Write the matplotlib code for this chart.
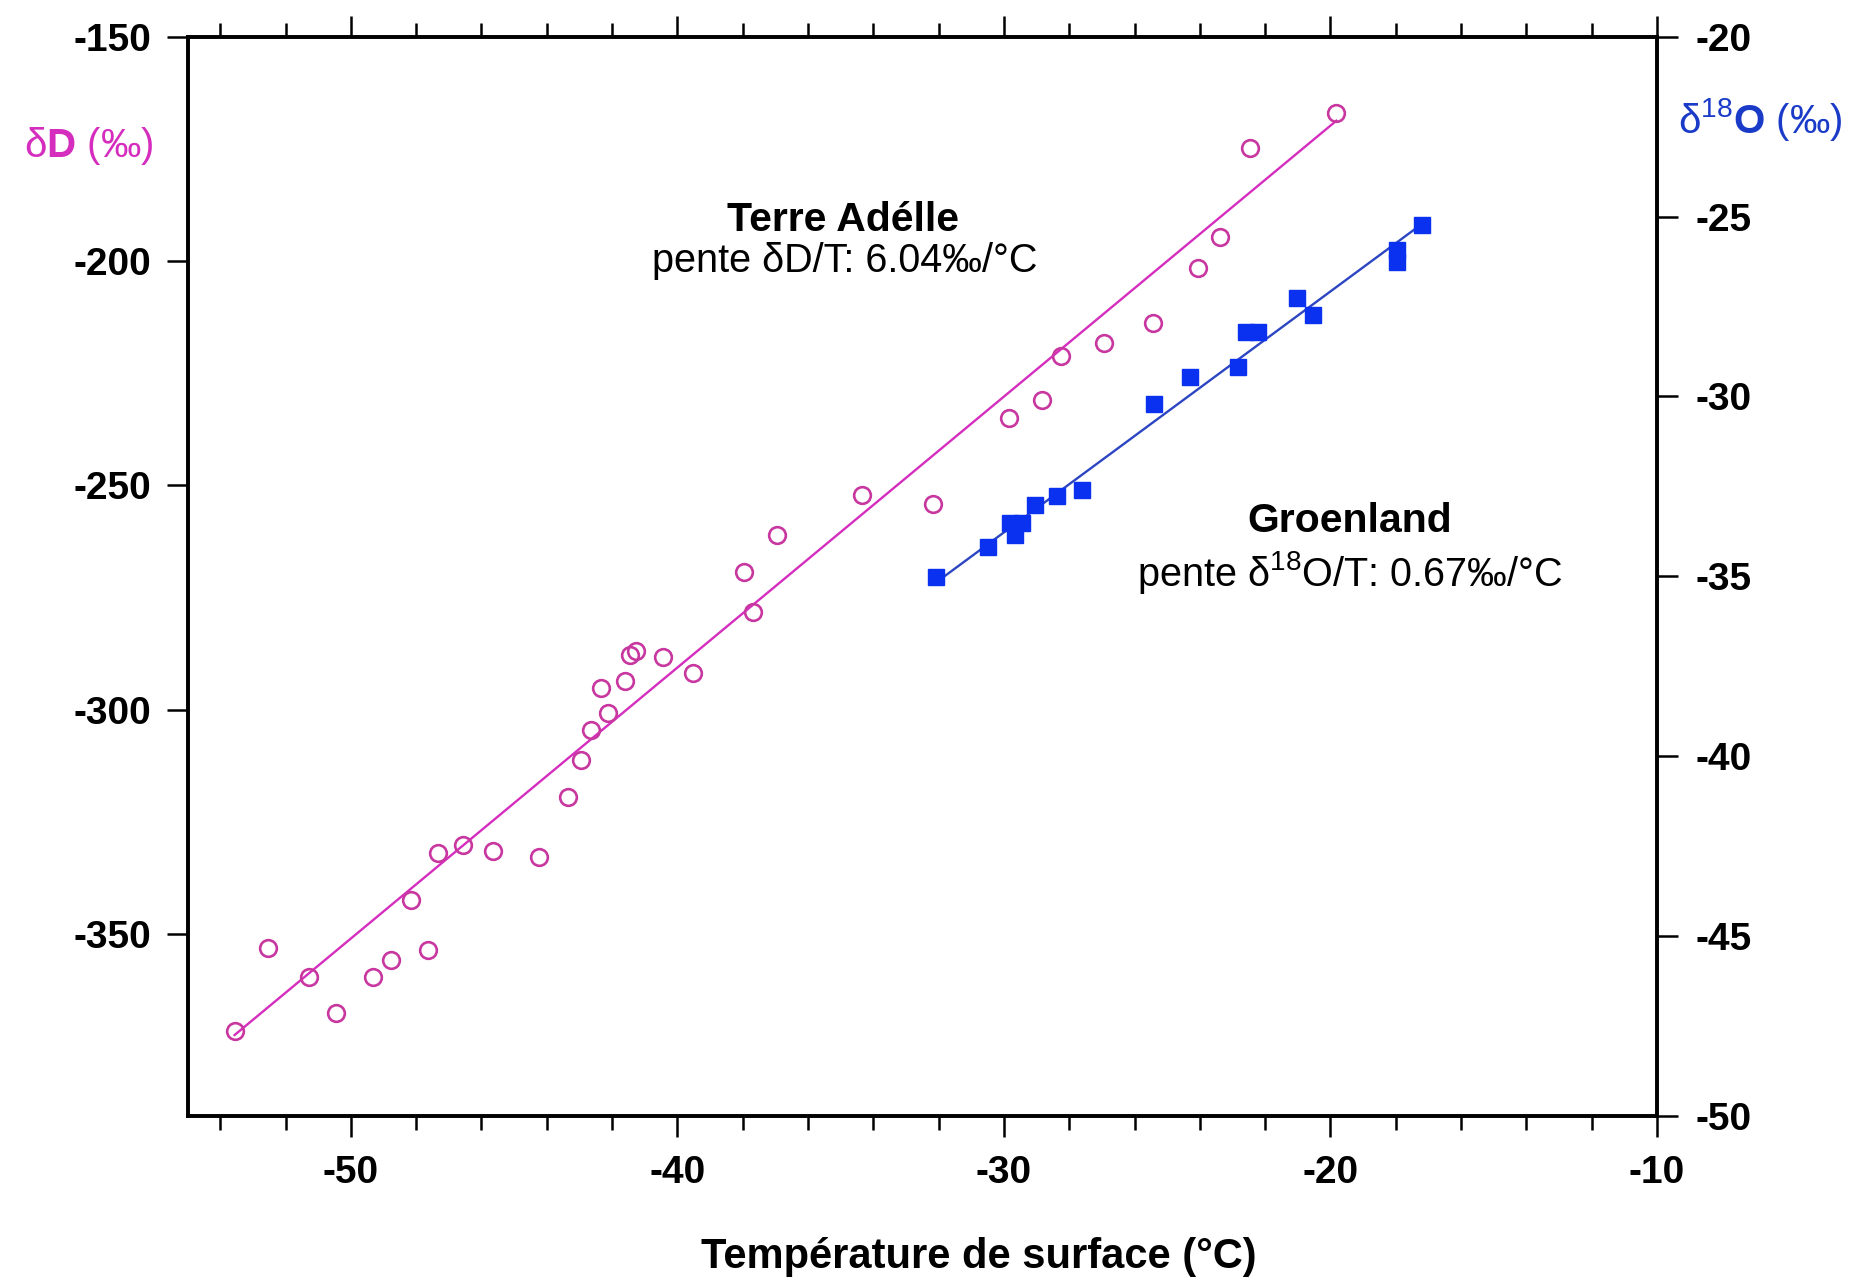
import numpy as np
import matplotlib
matplotlib.use("Agg")
import matplotlib.pyplot as plt

# Terre Adélie: surface temperature (°C) vs deuterium (‰)
temp_ta = [-53.56, -52.54, -51.27, -50.45, -49.33, -48.76, -48.15, -47.64, -47.33,
           -46.57, -45.65, -44.24, -43.35, -42.94, -42.64, -42.33, -42.13, -41.61,
           -41.46, -41.26, -40.44, -39.52, -37.96, -37.67, -36.95, -34.36, -32.18,
           -29.85, -28.84, -28.25, -26.95, -25.43, -24.05, -23.39, -22.47, -19.82]
delta_d = [-371.7, -353.1, -359.5, -367.6, -359.5, -355.7, -342.4, -353.5, -332.0,
           -330.1, -331.4, -332.9, -319.4, -311.2, -304.5, -295.2, -300.8, -293.7,
           -287.8, -287.0, -288.2, -291.9, -269.3, -278.3, -261.1, -252.1, -254.2,
           -234.9, -231.0, -221.2, -218.3, -213.9, -201.6, -194.6, -174.9, -166.9]

# Greenland: surface temperature (°C) vs oxygen-18 (‰)
temp_gr = [-32.07, -30.48, -29.82, -29.45, -29.66, -29.05, -28.39, -27.62, -25.41,
           -24.30, -22.82, -22.60, -22.21, -21.03, -20.53, -17.97, -17.97, -17.21]
delta_o18 = [-35.01, -34.18, -33.53, -33.53, -33.85, -33.02, -32.78, -32.60, -30.20,
             -29.45, -29.17, -28.20, -28.20, -27.27, -27.73, -25.93, -26.25, -25.23]

# Linear fits (slope in ‰/°C, intercept in ‰)
slope_d, intercept_d = 6.04, -49.0
slope_o, intercept_o = 0.67, -13.68

x_major = [-50, -40, -30, -20, -10]
x_minor = list(range(-54, -9, 2))
yl_ticks = [-150, -200, -250, -300, -350]
yr_ticks = [-20, -25, -30, -35, -40, -45, -50]

MAGENTA = "#D52EBE"
MAG_EDGE = "#C8379F"
BLUE = "#0A30F0"
BLUE_LINE = "#2C45C2"
LABEL_BLUE = "#1A3AC8"

plt.rcParams["font.family"] = ["Liberation Sans", "DejaVu Sans"]
plt.rcParams["mathtext.fontset"] = "custom"
plt.rcParams["mathtext.rm"] = "Liberation Sans"
plt.rcParams["mathtext.bf"] = "Liberation Sans:bold"

fig = plt.figure(figsize=(18.61, 12.81), dpi=100)
ax = fig.add_axes([0.1008, 0.1290, 0.8896 - 0.1008 + 0.0008, 0.9713 - 0.1290])
ax2 = ax.twinx()

ax.set_xlim(-55, -10)
ax.set_ylim(-390.5, -150)
ax2.set_ylim(-50, -20)

# Terre Adélie
xa = np.array([min(temp_ta), max(temp_ta)])
ax.plot(xa, slope_d * xa + intercept_d, color=MAGENTA, lw=1.7, zorder=2)
ax.plot(temp_ta, delta_d, linestyle="none", marker="o", ms=12, mfc="none",
        mec=MAG_EDGE, mew=1.9, zorder=3)

# Greenland
xg = np.array([min(temp_gr), max(temp_gr)])
ax2.plot(xg, slope_o * xg + intercept_o, color=BLUE_LINE, lw=1.7, zorder=2)
ax2.plot(temp_gr, delta_o18, linestyle="none", marker="s", ms=11.5, mfc=BLUE,
         mec=BLUE, mew=1.0, zorder=3)

# Spines and ticks
for a in (ax, ax2):
    for s in a.spines.values():
        s.set_linewidth(2.6)
        s.set_color("black")

tick_font = dict(fontsize=28, fontweight="bold")
ax.set_xticks(x_major)
ax.set_xticks(x_minor, minor=True)
ax.set_xticklabels([str(v) for v in x_major], **tick_font)
ax.set_yticks(yl_ticks)
ax.set_yticklabels([str(v) for v in yl_ticks], **tick_font)
ax.tick_params(axis="x", which="major", direction="out", length=15, width=1.8,
               pad=13, top=True, labeltop=False)
ax.tick_params(axis="x", which="minor", direction="out", length=10, width=1.8,
               top=True)
ax.tick_params(axis="y", which="major", direction="out", length=15, width=1.8,
               pad=11)

ax2.set_yticks(yr_ticks)
ax2.set_yticklabels([str(v) for v in yr_ticks], **tick_font)
ax2.tick_params(axis="y", which="major", direction="out", length=15, width=1.8,
                pad=13)

# Annotations
ax.text(-34.94, -190.8, "Terre Adélle", ha="center", va="center",
        fontsize=29.5, fontweight="bold")
ax.text(-34.88, -200.0, "pente δD/T: 6.04‰/°C", ha="center", va="center",
        fontsize=28.5)
ax.text(-19.42, -258.0, "Groenland", ha="center", va="center",
        fontsize=29.5, fontweight="bold")
ax.text(-19.42, -269.5, r"pente δ$^{18}$O/T: 0.67‰/°C", ha="center",
        va="center", fontsize=28.5)

# Axis titles
fig.text(0.0475, 0.886, r"δ$\mathbf{D}$ (‰)", color=MAGENTA, ha="center",
         va="center", fontsize=29)
fig.text(0.9460, 0.907, r"δ$^{18}$$\mathbf{O}$ (‰)", color=LABEL_BLUE,
         ha="center", va="center", fontsize=29)
fig.text(0.526, 0.019, "Température de surface (°C)", ha="center", va="center",
         fontsize=30, fontweight="bold")

fig.savefig("out.png", dpi=100, facecolor="white")
